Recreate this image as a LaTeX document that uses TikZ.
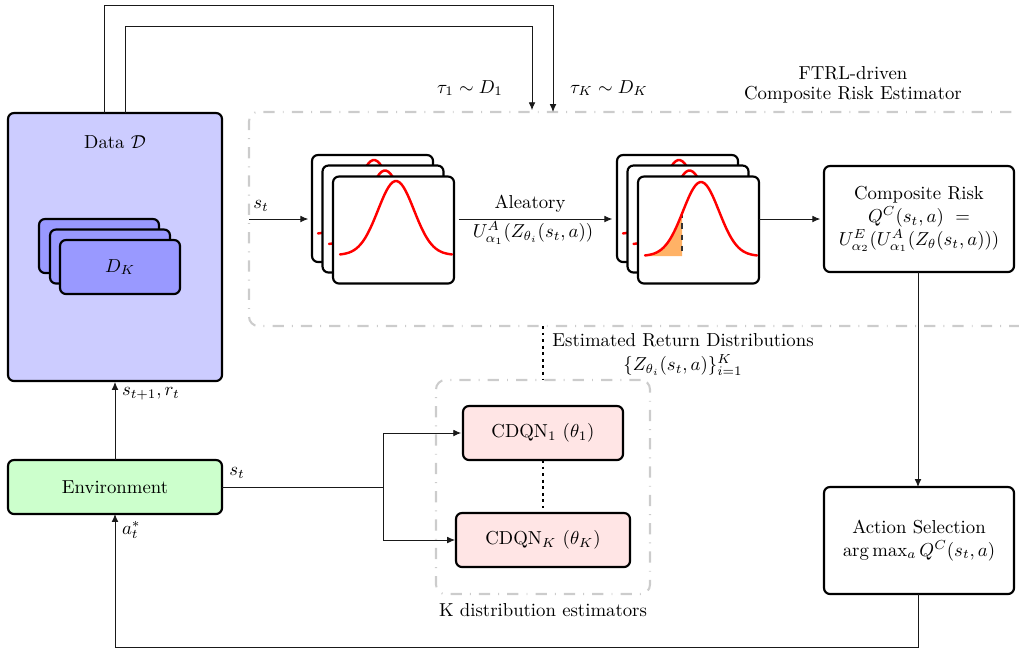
\documentclass[tikz,border=0pt]{standalone}
\usepackage{amsmath}
\usetikzlibrary{arrows.meta,calc}
\newcommand{\un}{0.533pt}
\tikzset{
  box/.style={draw=black,line width=1.15pt,rounded corners=3.2pt,outer sep=0pt,inner sep=0pt,align=center},
  databox/.style={box,fill=blue!20},
  setbox/.style={box,fill=blue!40},
  plotbox/.style={box,fill=white},
  envbox/.style={box,fill=green!20},
  netbox/.style={box,fill=red!10},
  riskbox/.style={box},
  groupbox/.style={draw=black!20,line width=1.1pt,rounded corners=5pt,outer sep=0pt,inner sep=0pt,
     dash pattern=on 6pt off 4.3pt on 0.5pt off 4.3pt},
  conn/.style={draw=black!90,line width=0.5pt},
  arr/.style={conn,-{Latex[length=4.2pt,width=3.6pt]}},
  dots/.style={line width=1.5pt,dotted},
  curve/.style={red,line width=1.3pt,line cap=round,smooth},
  lbl/.style={inner sep=0pt,outer sep=0pt}
}
\newcommand{\bellcurve}[3]{\draw[curve,domain=#1-56:#1+56,samples=50] plot ({\x},{#2-#3*exp(-((\x-#1)*(\x-#1))/648)});}
\begin{document}
\begin{tikzpicture}[x=\un,y=-\un]
\useasboundingbox (0,0) rectangle (1019,648);

% group boxes
\node[groupbox,minimum width=800*\un,minimum height=214*\un] (risk) at (649,219) {};
\node[groupbox,minimum width=214*\un,minimum height=214*\un] (ests) at (543,487) {};

% data
\node[databox,minimum width=214*\un,minimum height=268*\un] (data) at (115,247) {};
\node[lbl] (datalabel) at (115,142) {Data $\mathcal{D}$};
\node[setbox,minimum width=120*\un,minimum height=54*\un] (d1) at (99,246) {};
\node[setbox,minimum width=120*\un,minimum height=54*\un] (d2) at (110,256.5) {};
\node[setbox,minimum width=120*\un,minimum height=54*\un] (d3) at (120,267) {$D_K$};

% first plot stack
\node[plotbox,minimum width=121*\un,minimum height=107*\un] (pa1) at (372.5,208.5) {};
\bellcurve{374}{234}{74}
\node[plotbox,minimum width=121*\un,minimum height=107*\un] (pa2) at (383,219) {};
\bellcurve{385}{244.5}{74}
\node[plotbox,minimum width=121*\un,minimum height=107*\un] (pa3) at (393.5,230) {};
\bellcurve{396}{255}{74}

% second plot stack
\node[plotbox,minimum width=121*\un,minimum height=107*\un] (pb1) at (677.5,208.5) {};
\bellcurve{679}{234}{74}
\node[plotbox,minimum width=121*\un,minimum height=107*\un] (pb2) at (688,219) {};
\bellcurve{689.5}{244.5}{74}
\node[plotbox,minimum width=121*\un,minimum height=107*\un] (pb3) at (698.5,230) {};
\fill[orange!60,domain=645:682,samples=30] plot ({\x},{256-74*exp(-((\x-701)*(\x-701))/648)}) -- (682,256) -- (645,256) -- cycle;
\draw[black!80,line width=0.8pt,dashed] (682,212) -- (682,256);
\bellcurve{701}{256}{74}

% right boxes
\node[riskbox,minimum width=190*\un,minimum height=106*\un] (comp) at (919,219)
  {Composite Risk\\[0.3pt]$Q^C(s_t,a)\ =$\\[0.3pt]$U^E_{\alpha_2}(U^A_{\alpha_1}(Z_\theta(s_t,a)))$};
\node[riskbox,minimum width=190*\un,minimum height=107*\un] (act) at (919,540.5)
  {Action Selection\\$\arg\max_a Q^C(s_t,a)$};

% environment and nets
\node[envbox,minimum width=214*\un,minimum height=54*\un] (env) at (115,487) {Environment};
\node[netbox,minimum width=160*\un,minimum height=54*\un] (n1) at (543,433) {CDQN$_1$ $(\theta_1)$};
\node[netbox,minimum width=174*\un,minimum height=54*\un] (nk) at (543,540) {CDQN$_K$ $(\theta_K)$};

% connectors
\coordinate (branch) at (383,487);
\coordinate (bottom) at (918,647);
\coordinate (stin) at (249,219);
\draw[arr] (104,0 |- data.north) -- (104,5) -- (553,5) -- (553,0 |- risk.north);
\draw[arr] (125,0 |- data.north) -- (125,26) -- (532,26) -- ([yshift=1pt]532,0 |- risk.north);
\draw[arr,shorten >=2pt] (stin) -- (pa1.west |- stin);
\draw[arr,shorten <=2.5pt,shorten >=2.5pt] (pa3.east |- stin) -- (pb1.west |- stin);
\draw[arr,shorten >=2pt] (pb3.east |- stin) -- (comp.west);
\draw[arr] (918,0 |- comp.south) -- (918,0 |- act.north);
\draw[arr] (918,0 |- act.south) -- (bottom) -- (115,647) -- (115,0 |- env.south);
\draw[arr,shorten >=0.5pt] (env.north) -- (data.south);
\draw[conn] (env.east) -- (branch);
\draw[arr,shorten >=1pt] (branch) -- (383,433) -- (n1.west);
\draw[arr,shorten >=0.5pt] (branch) -- (383,540) -- (nk.west);
\draw[dots] (n1.south) -- ([yshift=2.5pt]nk.north);
\draw[dots] (543,0 |- risk.south) -- (ests.north);

% labels
\node[lbl] (l1) at (261,206) {$s_t$};
\node[lbl] (l2) at (530,204) {Aleatory};
\node[lbl] (l3) at (533,233) {$U^A_{\alpha_1}(Z_{\theta_i}(s_t,a))$};
\node[lbl] (l4) at (470,88) {$\tau_1\sim D_1$};
\node[lbl] (l5) at (609,88) {$\tau_K\sim D_K$};
\node[lbl] (l6) at (853,73) {FTRL-driven};
\node[lbl] (l7) at (853,95) {Composite Risk Estimator};
\node[lbl] (l8) at (683,340) {Estimated Return Distributions};
\node[lbl] (l9) at (683,365) {$\{Z_{\theta_i}(s_t,a)\}_{i=1}^K$};
\node[lbl] (l10) at (543,610) {K distribution estimators};
\node[lbl,anchor=west] (l11) at (122,394) {$s_{t+1},r_t$};
\node[lbl,anchor=west] (l12) at (122,530) {$a_t^*$};
\node[lbl] (l13) at (237,473) {$s_t$};
\end{tikzpicture}
\end{document}
